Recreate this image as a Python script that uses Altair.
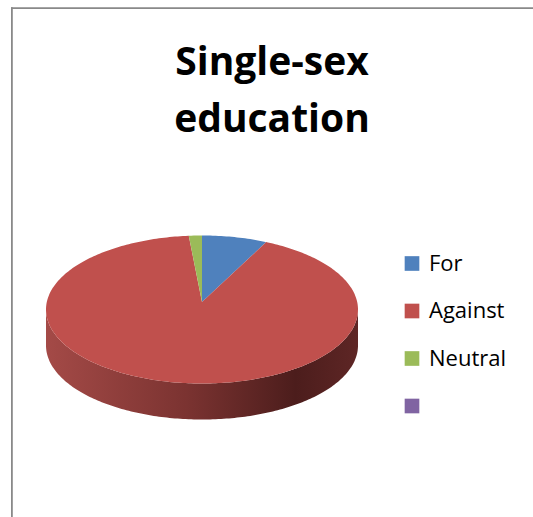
import numpy as np
import pandas as pd
import altair as alt

# ---- data ----
title_lines = ["Single-sex", "education"]
categories = ["For", "Against", "Neutral", ""]
values = [5, 68, 1, 0]
colors = ["#4f81bd", "#c0504d", "#9bbb59", "#8064a2"]

# ---- geometry of the tilted (3-D look) pie, in pixels of the 533x517 page ----
W, H = 533, 517
CX, CY = 202.0, 309.5      # centre of the top ellipse
RX = 156.0                 # horizontal radius
TILT = 74.0 / RX           # vertical radius / horizontal radius
DEPTH = 36.0 / RX          # thickness of the disc
APEX_LIFT = 7.5 / RX       # perspective: slice apex sits a bit above ellipse centre


def angle_steps(a0, a1):
    return np.unique(np.concatenate([np.arange(np.ceil(a0), a1, 1.0), [a0, a1]]))


total = float(sum(values))
top_rows, side_rows = [], []
start = 0.0
for cat, v in zip(categories, values):
    if v <= 0:
        continue
    end = start + v / total * 360.0
    top_rows.append(dict(cat=cat, i=0, x=0.0, y=APEX_LIFT))
    for k, a in enumerate(angle_steps(start, end), start=1):
        r = np.radians(a)
        top_rows.append(dict(cat=cat, i=k, x=np.sin(r), y=TILT * np.cos(r)))
    lo, hi = max(start, 90.0), min(end, 270.0)
    if hi > lo:
        for a in angle_steps(lo, hi):
            r = np.radians(a)
            yt = TILT * np.cos(r)
            side_rows.append(dict(cat=cat, x=np.sin(r), yt=yt, yb=yt - DEPTH))
    start = end

top_df = pd.DataFrame(top_rows)
side_df = pd.DataFrame(side_rows)

xs = alt.Scale(domain=[-CX / RX, (W - CX) / RX], nice=False, zero=False)
ys = alt.Scale(domain=[(CY - H) / RX, CY / RX], nice=False, zero=False)

side = alt.Chart(side_df).mark_area(
    color=alt.Gradient(
        gradient="linear",
        x1=0, x2=1, y1=0, y2=0,
        stops=[
            alt.GradientStop(offset=0.0, color="#a44a47"),
            alt.GradientStop(offset=0.45, color="#7b3331"),
            alt.GradientStop(offset=0.8, color="#4c1d1c"),
            alt.GradientStop(offset=1.0, color="#5e2625"),
        ],
    )
).encode(
    x=alt.X("x:Q", scale=xs, axis=None),
    y=alt.Y("yt:Q", scale=ys, axis=None),
    y2="yb:Q",
    detail="cat:N",
)

top = alt.Chart(top_df).mark_line(filled=True).encode(
    x=alt.X("x:Q", scale=xs, axis=None),
    y=alt.Y("y:Q", scale=ys, axis=None),
    order="i:Q",
    color=alt.Color(
        "cat:N",
        scale=alt.Scale(domain=categories, range=colors),
        legend=alt.Legend(
            title=None,
            orient="none",
            legendX=401,
            legendY=252.5,
            symbolType="square",
            symbolSize=215,
            symbolStrokeWidth=0,
            labelFont="Open Sans",
            labelFontSize=22,
            labelColor="#000000",
            labelOffset=6,
            rowPadding=25.5,
            padding=0,
        ),
    ),
)

title = alt.Chart(pd.DataFrame({"t": [0]})).mark_text(
    text=title_lines,
    font="Open Sans",
    fontWeight="bold",
    fontSize=39,
    lineHeight=57,
    align="center",
    baseline="alphabetic",
    color="#000000",
).encode(x=alt.value(272), y=alt.value(75))

frame_top = alt.Chart(pd.DataFrame({"t": [0]})).mark_rule(
    color="#898989", strokeWidth=1.8
).encode(x=alt.value(11), x2=alt.value(W), y=alt.value(8.2))
frame_left = alt.Chart(pd.DataFrame({"t": [0]})).mark_rule(
    color="#898989", strokeWidth=1.8
).encode(x=alt.value(11.9), y=alt.value(7.3), y2=alt.value(H))

chart = alt.layer(frame_top, frame_left, side, top, title).properties(
    width=W, height=H, padding=0, autosize="none", background="white"
).configure_view(stroke=None)

chart.save("out.html", embed_options={"renderer": "svg", "actions": False})
